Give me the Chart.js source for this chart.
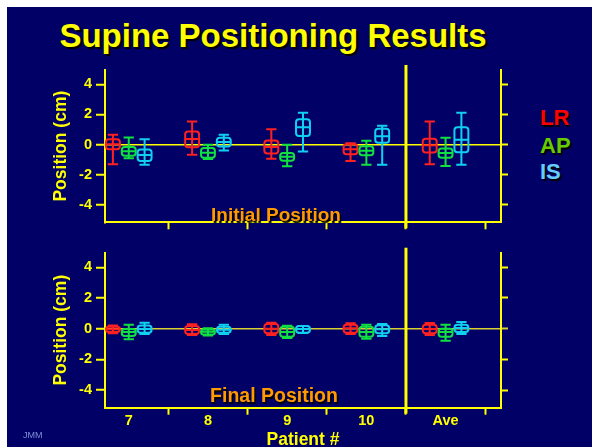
<!DOCTYPE html>
<html>
<head>
<meta charset="utf-8">
<script src="https://cdn.jsdelivr.net/npm/chart.js@4"></script>
<style>
  html, body { margin: 0; padding: 0; background: #ffffff; }
  #page { position: absolute; left: 0; top: 0; width: 592px; height: 447px; overflow: hidden; }
  #stage { position: absolute; left: 7px; top: 7px; width: 585px; height: 440px; background: #000066; }
  canvas { position: absolute; left: 0; }
  .txt { position: absolute; font-family: "Liberation Sans", Arial, sans-serif; font-weight: bold; line-height: 1; white-space: nowrap; }
  #title { top: 19px; left: 273px; transform: translateX(-50%); font-size: 33px; color: #ffff00; text-shadow: 2px 2px 1px #000000; }
  .leg { left: 540px; font-size: 22px; text-shadow: 1.5px 1.5px 1px #000000; }
  .panel { font-size: 19px; color: #ff9900; transform: translateX(-50%); text-shadow: 1.5px 1.5px 1px #000000; }
  #jmm { left: 23px; top: 431px; font-size: 9px; font-weight: normal; color: #8090d8; }
</style>
</head>
<body>
<div id="page">
  <div id="stage"></div>
  <div class="txt" id="title">Supine Positioning Results</div>
  <div class="txt leg" style="top:107px;color:#ff0000">LR</div>
  <div class="txt leg" style="top:135px;color:#66cc00">AP</div>
  <div class="txt leg" style="top:161px;color:#66ccff">IS</div>
  <canvas id="initial" width="592" height="180" style="top:55px"></canvas>
  <canvas id="final" width="592" height="207" style="top:240px"></canvas>
  <div class="txt panel" style="top:205px;left:276px">Initial Position</div>
  <div class="txt panel" style="top:386px;left:274px;font-size:19.5px">Final Position</div>
  <div class="txt" id="jmm">JMM</div>
</div>
<script>
// Patients on the x axis, plus the pooled average
const categories = ['7', '8', '9', '10', 'Ave'];
// Category centres and the boundaries between them (x-axis units)
const centers = [0.3, 1.3, 2.3, 3.3, 4.3];
const boundaries = [0.8, 1.8, 2.8, 3.8, 4.8];
const yTicks = [-4, -2, 0, 2, 4];

// Each entry: [whisker low, lower quartile, median, upper quartile, whisker high] in cm
const initialLR = [
  [-1.30, -0.30,  0.02,  0.35, 0.65],
  [-0.67, -0.17,  0.37,  0.87, 1.54],
  [-0.93, -0.58, -0.15,  0.28, 1.02],
  [-1.08, -0.63, -0.30,  0.02, 0.09],
  [-1.30, -0.52, -0.04,  0.39, 1.54]
];
const initialAP = [
  [-0.91, -0.74, -0.43, -0.15, 0.48],
  [-0.95, -0.87, -0.54, -0.22, 0.00],
  [-1.43, -1.06, -0.80, -0.56, 0.00],
  [-1.34, -0.71, -0.41, -0.11, 0.26],
  [-1.41, -0.87, -0.56, -0.26, 0.45]
];
const initialIS = [
  [-1.34, -1.08, -0.69, -0.32, 0.35],
  [-0.39, -0.13,  0.17,  0.45, 0.65],
  [-0.45,  0.58,  1.15,  1.69, 2.12],
  [-1.34,  0.13,  0.56,  1.06, 1.26],
  [-1.34, -0.50,  0.32,  1.15, 2.12]
];
const finalLR = [
  [-0.30, -0.22, -0.03, 0.13, 0.20],
  [-0.41, -0.35, -0.09, 0.17, 0.28],
  [-0.41, -0.30,  0.00, 0.30, 0.39],
  [-0.35, -0.26,  0.02, 0.26, 0.35],
  [-0.41, -0.30, -0.02, 0.26, 0.37]
];
const finalAP = [
  [-0.69, -0.48, -0.22, -0.02, 0.26],
  [-0.45, -0.38, -0.20, -0.05, 0.02],
  [-0.61, -0.52, -0.22,  0.13, 0.19],
  [-0.65, -0.52, -0.22,  0.13, 0.26],
  [-0.78, -0.52, -0.22,  0.00, 0.26]
];
const finalIS = [
  [-0.35, -0.26, -0.02, 0.20, 0.39],
  [-0.35, -0.26, -0.07, 0.13, 0.26],
  [-0.28, -0.26, -0.02, 0.17, 0.17],
  [-0.48, -0.30, -0.04, 0.22, 0.30],
  [-0.35, -0.22,  0.04, 0.26, 0.43]
];

const YELLOW = '#ffff00';
const COLORS = { LR: '#ff2020', AP: '#10e040', IS: '#10d0f0' };
const SHIFT = { LR: -0.2, AP: 0, IS: 0.2 };
const BOX_HALF = 0.088;   // half box width, x units
const CAP_HALF = 0.065;   // half whisker-cap width, x units
const FONT = '"Liberation Sans", Arial, sans-serif';

function roundRectPath(ctx, x, y, w, h, r) {
  r = Math.min(r, Math.abs(w) / 2, Math.abs(h) / 2);
  ctx.moveTo(x + r, y);
  ctx.arcTo(x + w, y, x + w, y + h, r);
  ctx.arcTo(x + w, y + h, x, y + h, r);
  ctx.arcTo(x, y + h, x, y, r);
  ctx.arcTo(x, y, x + w, y, r);
  ctx.closePath();
}

// Draws a box-and-whisker glyph for every point of every dataset
const boxPlot = {
  id: 'boxPlot',
  afterDatasetsDraw(chart) {
    const { ctx, scales: { x, y } } = chart;
    const half = x.getPixelForValue(BOX_HALF) - x.getPixelForValue(0);
    const cap = x.getPixelForValue(CAP_HALF) - x.getPixelForValue(0);
    ctx.save();
    ctx.lineWidth = 2;
    ctx.lineCap = 'butt';
    chart.data.datasets.forEach(ds => {
      ctx.strokeStyle = ds.borderColor;
      ds.stats.forEach((s, i) => {
        const cx = x.getPixelForValue(ds.data[i].x);
        const [lo, q1, med, q3, hi] = s.map(v => y.getPixelForValue(v));
        ctx.beginPath();
        ctx.moveTo(cx, hi); ctx.lineTo(cx, lo);
        ctx.moveTo(cx - cap, hi); ctx.lineTo(cx + cap, hi);
        ctx.moveTo(cx - cap, lo); ctx.lineTo(cx + cap, lo);
        ctx.moveTo(cx - half, med); ctx.lineTo(cx + half, med);
        ctx.stroke();
        ctx.beginPath();
        roundRectPath(ctx, cx - half, q3, 2 * half, q1 - q3, 3);
        ctx.stroke();
      });
    });
    ctx.restore();
  }
};

// Vertical rule that separates the individual patients from the average
const separator = {
  id: 'separator',
  afterDraw(chart) {
    const { ctx, chartArea, scales: { x } } = chart;
    const px = x.getPixelForValue(boundaries[3]);
    ctx.save();
    ctx.strokeStyle = YELLOW;
    ctx.lineWidth = 3;
    ctx.beginPath();
    ctx.moveTo(px, chartArea.top - 5);
    ctx.lineTo(px, chartArea.bottom + 6);
    ctx.stroke();
    ctx.restore();
  }
};

function makeDatasets(series) {
  return Object.keys(series).map(key => ({
    label: key,
    stats: series[key],
    borderColor: COLORS[key],
    pointRadius: 0,
    showLine: false,
    data: series[key].map((s, i) => ({ x: centers[i] + SHIFT[key], y: s[2] }))
  }));
}

function makeChart(id, series, opts) {
  const xTickValues = centers.concat(boundaries).sort((a, b) => a - b);
  const isBoundary = v => boundaries.some(b => Math.abs(b - v) < 1e-6);
  return new Chart(document.getElementById(id), {
    type: 'scatter',
    data: { datasets: makeDatasets(series) },
    plugins: [boxPlot, separator],
    options: {
      responsive: false,
      animation: false,
      events: [],
      layout: { padding: { top: opts.padTop, left: 0, right: 0, bottom: 0 } },
      plugins: { legend: { display: false }, title: { display: false }, tooltip: { enabled: false } },
      scales: {
        x: {
          type: 'linear',
          min: 0, max: 5,
          afterFit: s => { s.height = opts.xHeight; },
          afterBuildTicks: s => { s.ticks = xTickValues.map(v => ({ value: v })); },
          border: { color: YELLOW, width: 2 },
          grid: {
            drawOnChartArea: false,
            tickLength: 7,
            tickWidth: 2,
            tickColor: c => (c.tick && isBoundary(c.tick.value)) ? YELLOW : 'rgba(0,0,0,0)'
          },
          ticks: {
            display: opts.xLabels,
            autoSkip: false,
            maxRotation: 0,
            minRotation: 0,
            padding: 0,
            color: YELLOW,
            font: { family: FONT, size: 14.5, weight: 'bold', lineHeight: 0.9 },
            callback: v => {
              const i = centers.findIndex(c => Math.abs(c - v) < 1e-6);
              return i >= 0 ? categories[i] : '';
            }
          },
          title: {
            display: opts.xLabels,
            text: 'Patient #',
            color: YELLOW,
            padding: { top: 0, bottom: 0 },
            font: { family: FONT, size: 17.5, weight: 'bold', lineHeight: 0.8 }
          }
        },
        y: {
          type: 'linear',
          position: 'left',
          min: -5.15, max: 4.95,
          afterFit: s => { s.width = 105; },
          afterBuildTicks: s => { s.ticks = yTicks.map(v => ({ value: v })); },
          border: { color: YELLOW, width: 2 },
          grid: {
            lineWidth: 1.5,
            color: c => (c.tick && c.tick.value === 0) ? opts.zeroColor : 'rgba(0,0,0,0)',
            tickColor: YELLOW,
            tickLength: 9,
            tickWidth: 2
          },
          ticks: {
            color: YELLOW,
            padding: 4,
            font: { family: FONT, size: 14.5, weight: 'bold' }
          },
          title: {
            display: true,
            text: 'Position (cm)',
            color: YELLOW,
            padding: { top: 50.5, bottom: 0 },
            font: { family: FONT, size: 17.5, weight: 'bold', lineHeight: 1.2 }
          }
        },
        y2: {
          type: 'linear',
          position: 'right',
          display: true,
          min: -5.15, max: 4.95,
          afterFit: s => { s.width = 91; },
          afterBuildTicks: s => { s.ticks = yTicks.map(v => ({ value: v })); },
          border: { color: YELLOW, width: 2 },
          grid: {
            drawOnChartArea: false,
            tickColor: c => (c.tick && c.tick.value === 0) ? opts.zeroColor : YELLOW,
            tickLength: 7,
            tickWidth: 2
          },
          ticks: { display: false }
        }
      }
    }
  });
}

makeChart('initial', { LR: initialLR, AP: initialAP, IS: initialIS },
  { padTop: 15, xHeight: 10, xLabels: false, zeroColor: '#ffff00' });
makeChart('final', { LR: finalLR, AP: finalAP, IS: finalIS },
  { padTop: 11.7, xHeight: 39.3, xLabels: true, zeroColor: '#d8d030' });
</script>
</body>
</html>
